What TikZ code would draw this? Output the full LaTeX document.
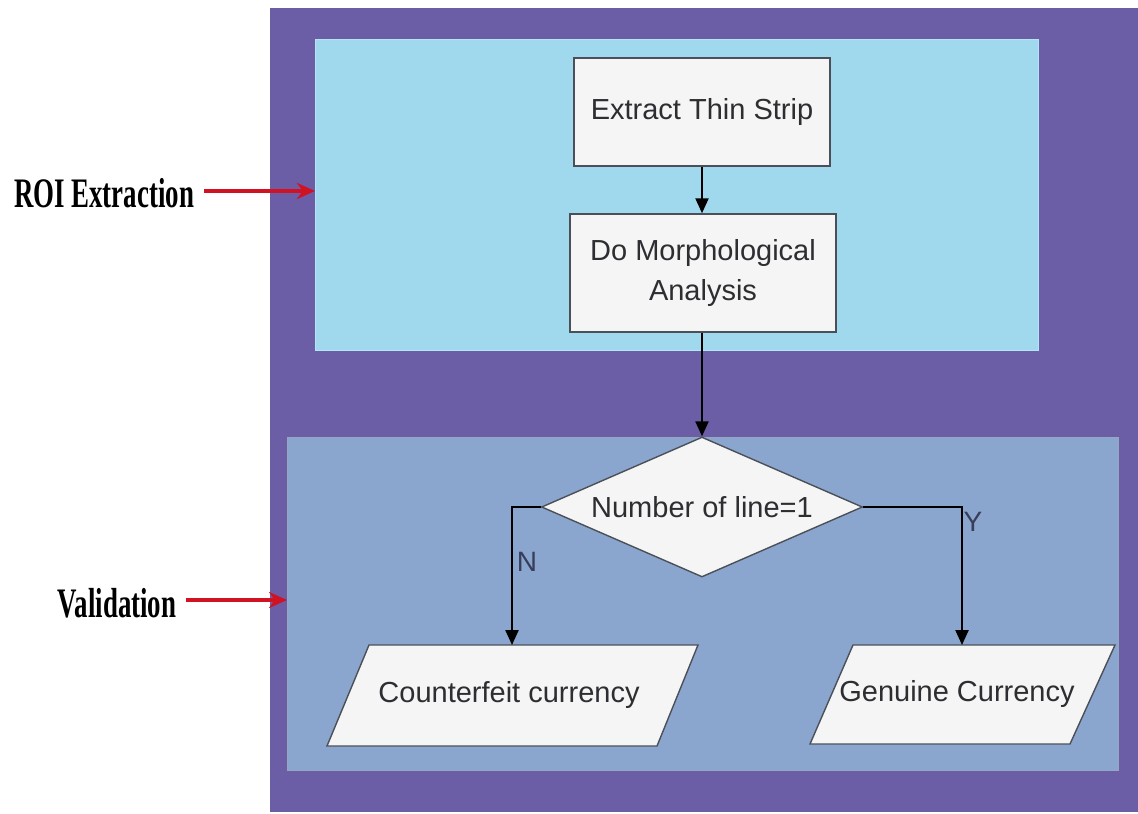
\documentclass[tikz,border=0pt]{standalone}
\usepackage{fontspec}
\setmainfont{Liberation Sans}
\newfontfamily\lblfont[FakeStretch=0.64]{Liberation Serif}
\usetikzlibrary{arrows.meta,shapes.geometric}

\definecolor{outerpurple}{RGB}{107,93,166}
\definecolor{roiblue}{RGB}{160,216,238}
\definecolor{roiedge}{RGB}{180,228,245}
\definecolor{valblue}{RGB}{138,166,206}
\definecolor{valedge}{RGB}{150,168,190}
\definecolor{boxfill}{RGB}{245,245,245}
\definecolor{boxline}{RGB}{75,80,88}
\definecolor{txtgray}{RGB}{45,45,50}
\definecolor{yntext}{RGB}{55,62,90}
\definecolor{arrowred}{RGB}{208,18,34}

\begin{document}
\begin{tikzpicture}[x=1pt,y=-1pt,
  region/.style={rectangle, anchor=north west, inner sep=0},
  boxtext/.style={text=txtgray, font=\fontsize{29}{40}\selectfont},
  stepbox/.style={boxtext, rectangle, draw=boxline, fill=boxfill, line width=1.5pt,
    inner sep=0, align=center},
  decision/.style={boxtext, diamond, aspect=2.3, draw=boxline, fill=boxfill,
    line width=1.4pt, inner sep=0, minimum width=321, minimum height=140},
  para/.style={draw=boxline, fill=boxfill, line width=1.4pt, line join=miter},
  flow/.style={draw=black, line width=2.3pt, -{Triangle[length=15pt,width=13pt]}},
  ynlabel/.style={text=yntext, font=\fontsize{28}{30}\selectfont, inner sep=0},
  sidelabel/.style={font=\lblfont\bfseries\fontsize{42}{44}\selectfont, text=black, inner sep=0},
  redarrow/.style={draw=arrowred, line width=3.2pt, -{Stealth[length=18pt,width=16pt]}}
]
\useasboundingbox (0,0) rectangle (1138,814);
\fill[white] (0,0) rectangle (1138,814);

% background regions
\node[region, fill=outerpurple, minimum width=868, minimum height=804] (outer) at (270,8) {};
\node[region, fill=roiblue, draw=roiedge, line width=1.4pt, minimum width=723, minimum height=311] (roi) at (315,39) {};
\node[region, fill=valblue, draw=valedge, line width=1.4pt, minimum width=831, minimum height=333] (val) at (287,437) {};

% process steps
\node[stepbox, minimum width=256, minimum height=108] (strip) at (702,112) {Extract Thin Strip};
\node[stepbox, minimum width=266, minimum height=118] (morph) at (703,273) {Do Morphological\\Analysis};
\node[decision] (dec) at (702,507) {Number of line=1};

% outcomes
\path[para] (327,746) -- (657,746) -- (698,645) -- (369,645) -- cycle;
\node[boxtext, inner sep=0] (fake) at (509,695) {Counterfeit currency};
\coordinate (fakeIn) at (512,645);
\path[para] (810,744) -- (1070,744) -- (1115,645) -- (853,645) -- cycle;
\node[boxtext, inner sep=0] (genuine) at (957,694) {Genuine Currency};
\coordinate (genuineIn) at (962,645);

% flow connectors
\draw[flow] (strip.south) -- (strip.south |- morph.north);
\draw[flow] (morph.south -| dec.north) -- (dec.north);
\draw[flow] (dec.west) -| (fakeIn);
\draw[flow] (dec.east) -| (genuineIn);
\node[ynlabel] (no) at (527,562) {N};
\node[ynlabel] (yes) at (973,522) {Y};

% side labels
\node[sidelabel] (lblroi) at (104,193) {ROI Extraction};
\node[sidelabel] (lblval) at (117,603) {Validation};
\draw[redarrow] ([xshift=10pt,yshift=2pt]lblroi.east) -- ([yshift=2pt]lblroi.east -| roi.west);
\draw[redarrow] ([xshift=10pt,yshift=3pt]lblval.east) -- ([yshift=3pt]lblval.east -| val.west);
\end{tikzpicture}
\end{document}
